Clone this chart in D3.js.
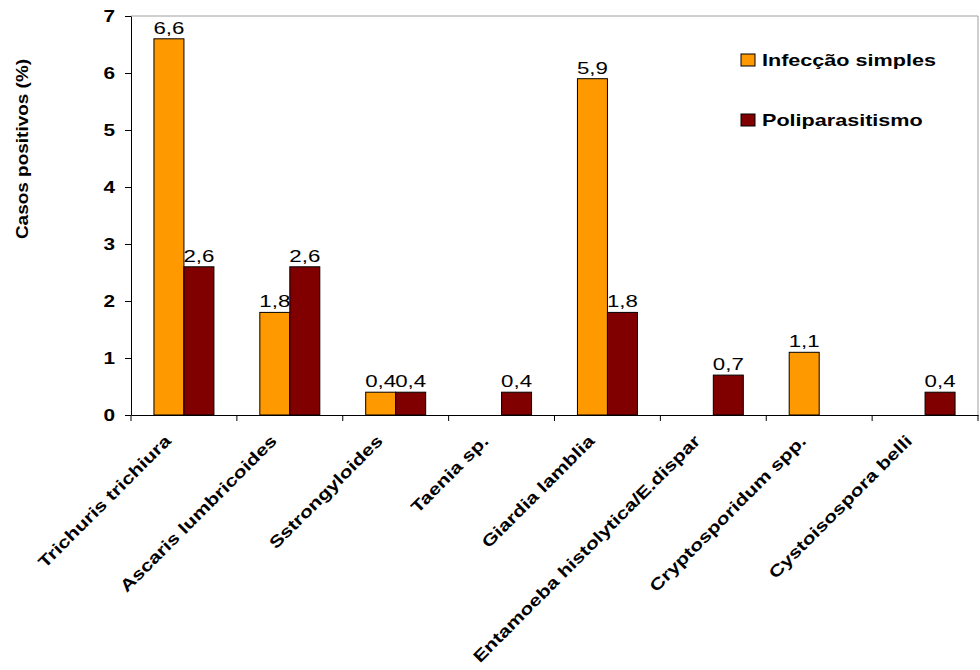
<!DOCTYPE html>
<html>
<head>
<meta charset="utf-8">
<script src="https://cdn.jsdelivr.net/npm/d3@7"></script>
<style>
  body { margin: 0; background: #fff; }
  svg { display: block; font-family: "Liberation Sans", Arial, sans-serif; }
</style>
</head>
<body>
<div id="chart"></div>
<script>
// data
const categories = ['Trichuris trichiura', 'Ascaris lumbricoides', 'Sstrongyloides', 'Taenia sp.',
  'Giardia lamblia', 'Entamoeba histolytica/E.dispar', 'Cryptosporidum spp.', 'Cystoisospora belli'];
const seriesNames = ['Infecção simples', 'Poliparasitismo'];
const infeccaoSimples = [6.6, 1.8, 0.4, null, 5.9, null, 1.1, null];
const poliparasitismo = [2.6, 2.6, 0.4, 0.4, 1.8, 0.7, null, 0.4];
const yTicks = [0, 1, 2, 3, 4, 5, 6, 7];
const colors = ['#FF9900', '#800000'];

const width = 980, height = 670;
const margin = {top: 16, right: 2, bottom: 255, left: 131};

const svg = d3.select('#chart').append('svg')
  .attr('width', width)
  .attr('height', height);

const x = d3.scaleBand()
  .domain(categories)
  .range([margin.left, width - margin.right])
  .padding(0);

const xSub = d3.scaleBand()
  .domain(seriesNames)
  .range([0, x.bandwidth()])
  .paddingInner(0)
  .paddingOuter(0.765);

const y = d3.scaleLinear()
  .domain([0, 7])
  .range([height - margin.bottom, margin.top]);

const color = d3.scaleOrdinal().domain(seriesNames).range(colors);

// plot area border (top / right in grey)
svg.append('path')
  .attr('d', `M${margin.left},${y(7)}H${width - margin.right}V${y(0)}`)
  .attr('fill', 'none')
  .attr('stroke', '#a0a0a0')
  .attr('stroke-width', 1);

// bars
const rows = categories.map((c, i) => ({cat: c, values: [infeccaoSimples[i], poliparasitismo[i]]}));
const group = svg.append('g').selectAll('g')
  .data(rows)
  .join('g')
  .attr('transform', d => `translate(${x(d.cat)},0)`);

const cells = group.selectAll('g')
  .data(d => d.values.map((v, j) => ({name: seriesNames[j], value: v})).filter(d => d.value != null))
  .join('g');

cells.append('rect')
  .attr('x', d => xSub(d.name))
  .attr('y', d => y(d.value))
  .attr('width', xSub.bandwidth())
  .attr('height', d => y(0) - y(d.value))
  .attr('fill', d => color(d.name))
  .attr('stroke', '#000')
  .attr('stroke-width', 1);

cells.append('text')
  .attr('transform', d => `translate(${xSub(d.name) + xSub.bandwidth() / 2},${y(d.value) - 5}) scale(1.35,1)`)
  .attr('text-anchor', 'middle')
  .style('font-size', '16.5px')
  .attr('fill', '#000')
  .text(d => String(d.value).replace('.', ','));

// y axis
const yAxis = svg.append('g')
  .attr('transform', `translate(${margin.left},0)`)
  .call(d3.axisLeft(y).tickValues(yTicks).tickFormat(d3.format('d')).tickSize(6).tickSizeOuter(0));
yAxis.select('.domain').attr('stroke', '#000');
yAxis.selectAll('.tick line').attr('stroke', '#000');
yAxis.selectAll('.tick text')
  .attr('x', null)
  .attr('dy', '0.36em')
  .attr('transform', 'translate(-16,0) scale(1.3,1)')
  .style('font-size', '16px')
  .style('font-weight', 'bold')
  .attr('fill', '#000');

// x axis
const xAxis = svg.append('g')
  .attr('transform', `translate(0,${y(0)})`)
  .call(d3.axisBottom(x).tickSize(0).tickFormat(''));
xAxis.select('.domain').attr('stroke', '#000');
const bounds = categories.map(c => x(c)).concat([x.range()[1]]);
xAxis.selectAll('line.bound')
  .data(bounds)
  .join('line')
  .attr('class', 'bound')
  .attr('x1', d => d).attr('x2', d => d)
  .attr('y1', 0).attr('y2', 6)
  .attr('stroke', '#000');

svg.append('g').selectAll('text')
  .data(categories)
  .join('text')
  .attr('transform', d => `translate(${x(d) + x.bandwidth() / 2 - 12},${y(0) + 27}) rotate(-45) scale(1.28,1)`)
  .attr('text-anchor', 'end')
  .style('font-size', '16.5px')
  .style('font-weight', 'bold')
  .attr('fill', '#000')
  .text(d => d);

// y title
svg.append('text')
  .attr('transform', `translate(28,149) rotate(-90) scale(1.15,1)`)
  .attr('text-anchor', 'middle')
  .style('font-size', '16.5px')
  .style('font-weight', 'bold')
  .text('Casos positivos (%)');

// legend
const legend = svg.append('g')
  .selectAll('g')
  .data(seriesNames)
  .join('g')
  .attr('transform', (d, i) => `translate(741,${54 + i * 60})`);
legend.append('rect')
  .attr('width', 14).attr('height', 12)
  .attr('fill', d => color(d))
  .attr('stroke', '#000');
legend.append('text')
  .attr('transform', 'translate(21,12) scale(1.27,1)')
  .style('font-size', '17px')
  .style('font-weight', 'bold')
  .text(d => d);
</script>
</body>
</html>
